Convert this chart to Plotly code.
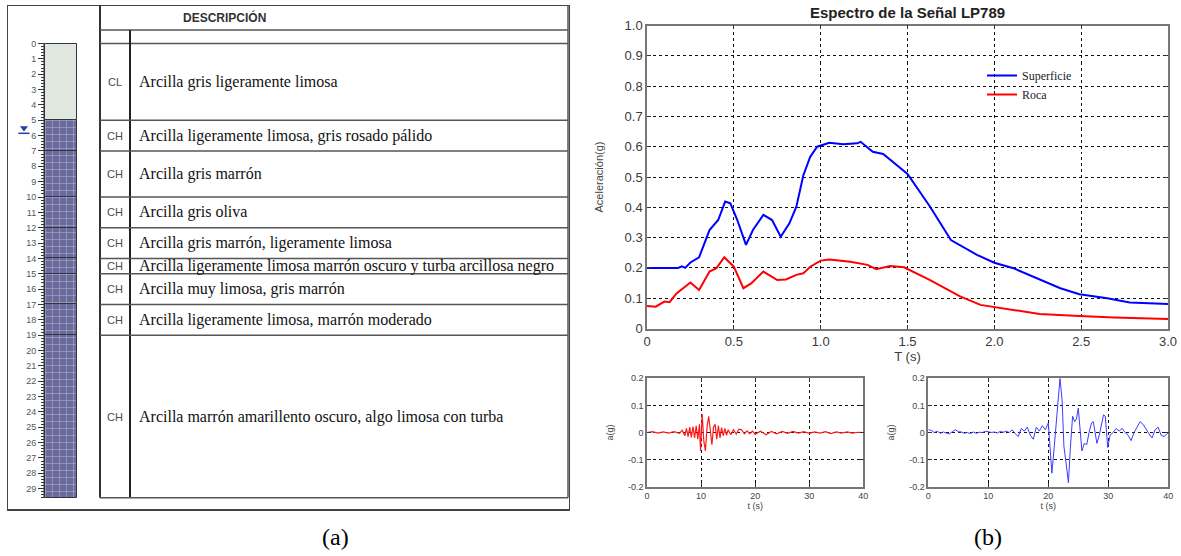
import numpy as np
import plotly.graph_objects as go

# ---------------- Data: soil profile (panel a) ----------------
layer_top = [0, 5, 7, 10, 12, 14, 15, 17, 19]
layer_bottom = [5, 7, 10, 12, 14, 15, 17, 19, 29.6]
uscs = ["CL", "CH", "CH", "CH", "CH", "CH", "CH", "CH", "CH"]
descripcion = [
    "Arcilla gris ligeramente limosa",
    "Arcilla ligeramente limosa, gris rosado pálido",
    "Arcilla gris marrón",
    "Arcilla gris oliva",
    "Arcilla gris marrón, ligeramente limosa",
    "Arcilla ligeramente limosa marrón oscuro y turba arcillosa negro",
    "Arcilla muy limosa, gris marrón",
    "Arcilla ligeramente limosa, marrón moderado",
    "Arcilla marrón amarillento oscuro, algo limosa con turba",
]
water_table_depth = 5.5
depth_ticks = list(range(0, 30))

# ---------------- Data: response spectra (panel b) ----------------
T_sup = [0, 0.1, 0.18, 0.2, 0.22, 0.25, 0.3, 0.36, 0.41, 0.45, 0.48, 0.52, 0.57,
         0.61, 0.67, 0.72, 0.77, 0.82, 0.86, 0.9, 0.94, 0.98, 1.05, 1.13, 1.21,
         1.23, 1.3, 1.36, 1.44, 1.5, 1.63, 1.75, 1.9, 2.0, 2.11, 2.24, 2.38,
         2.49, 2.65, 2.78, 3.0]
Sa_sup = [0.2, 0.2, 0.2, 0.205, 0.2, 0.218, 0.235, 0.325, 0.358, 0.419, 0.413,
          0.358, 0.276, 0.325, 0.375, 0.358, 0.303, 0.347, 0.402, 0.505, 0.567,
          0.6, 0.613, 0.608, 0.611, 0.616, 0.583, 0.576, 0.54, 0.51, 0.402,
          0.292, 0.243, 0.217, 0.199, 0.166, 0.133, 0.113, 0.0997, 0.086, 0.081]

T_roca = [0, 0.05, 0.1, 0.13, 0.17, 0.21, 0.25, 0.3, 0.36, 0.4, 0.445, 0.5,
          0.555, 0.6, 0.67, 0.75, 0.8, 0.86, 0.9, 0.94, 1.0, 1.05, 1.17, 1.27,
          1.32, 1.4, 1.48, 1.63, 1.8, 1.92, 2.05, 2.26, 2.49, 2.69, 3.0]
Sa_roca = [0.074, 0.072, 0.089, 0.087, 0.116, 0.133, 0.152, 0.127, 0.188, 0.199,
           0.235, 0.204, 0.133, 0.149, 0.188, 0.16, 0.162, 0.177, 0.182, 0.204,
           0.224, 0.228, 0.22, 0.21, 0.196, 0.206, 0.202, 0.16, 0.107, 0.078,
           0.067, 0.048, 0.041, 0.036, 0.031]

# ---------------- Data: acceleration time histories ----------------
t_roca = [0, 1, 2, 3, 4, 5, 6, 6.5, 7, 7.3, 7.6, 7.9, 8.2, 8.5, 8.8, 9.1, 9.4,
          9.7, 9.9, 10.2, 10.5, 10.8, 11.1, 11.4, 11.7, 12.0, 12.3, 12.6, 12.9,
          13.2, 13.5, 13.8, 14.1, 14.4, 14.7, 15.0, 15.5, 16, 16.5, 17, 17.5,
          18, 18.5, 19, 19.5, 20, 21, 22, 23, 24, 25, 26, 27, 28, 29, 30, 31,
          32, 33, 34, 35, 36, 37, 38, 39, 40]
a_roca = [0.0, 0.003, -0.002, 0.002, -0.002, 0.003, -0.003, 0.008, -0.012, 0.015,
          -0.015, 0.02, -0.018, 0.022, -0.02, 0.025, -0.025, 0.03, -0.068, 0.068,
          -0.03, -0.068, 0.02, 0.06, 0.01, -0.045, 0.02, 0.03, -0.025, 0.025,
          -0.02, 0.018, -0.012, 0.015, -0.01, 0.01, -0.008, 0.01, -0.006, 0.012,
          0.01, -0.005, 0.006, -0.004, 0.005, -0.006, 0.005, -0.008, 0.004,
          -0.005, 0.004, -0.003, 0.004, -0.002, 0.003, -0.003, 0.002, -0.002,
          0.003, -0.004, 0.002, -0.002, 0.002, -0.002, 0.001, 0.0]

t_sup = [0, 0.5, 1, 1.5, 2, 2.5, 3, 3.5, 4, 4.5, 5, 5.5, 6, 6.5, 7, 7.5, 8, 8.5,
         9, 9.5, 10, 10.5, 11, 11.5, 12, 12.5, 13, 13.5, 14, 14.5, 15, 15.5, 16,
         16.5, 17, 17.5, 18, 18.5, 19, 19.5, 20, 20.3, 20.6, 21.0, 21.3, 21.6,
         21.95, 22.3, 22.6, 23.0, 23.35, 23.7, 24.05, 24.4, 24.7, 25.0, 25.3,
         25.6, 26.0, 26.4, 26.8, 27.2, 27.5, 27.8, 28.1, 28.5, 28.8, 29.2, 29.5,
         29.9, 30.3, 30.8, 31.3, 31.8, 32.3, 32.8, 33.3, 33.8, 34.3, 34.8, 35.3,
         35.8, 36.3, 36.8, 37.3, 37.8, 38.3, 38.8, 39.3, 39.7, 40]
a_sup = [0.01, 0.008, 0.0, 0.005, -0.003, 0.002, -0.002, -0.005, 0.003, 0.01,
         0.003, 0.002, -0.003, 0.0, -0.004, 0.002, -0.003, 0.001, 0.0, 0.004,
         0.003, 0.0, 0.002, -0.002, 0.004, 0.001, 0.005, 0.0, 0.01, -0.005,
         -0.015, 0.015, 0.005, 0.02, -0.01, -0.025, 0.02, 0.005, 0.025, 0.01,
         0.035, -0.05, -0.15, -0.05, 0.02, 0.1, 0.2, 0.12, -0.05, -0.12, -0.185,
         -0.05, 0.06, 0.04, 0.05, 0.09, 0.02, -0.068, -0.04, -0.045, 0.0, 0.035,
         0.04, 0.0, -0.04, -0.01, 0.02, 0.065, 0.06, -0.055, -0.01, 0.0, 0.015,
         0.005, 0.015, 0.0, -0.01, -0.03, 0.0, 0.02, 0.04, 0.03, 0.01, -0.005,
         -0.02, 0.01, 0.02, -0.01, -0.015, -0.005, 0.0]

# ---------------- Layout geometry (pixels of the 1181x556 canvas) ----------------
W, H = 1181, 556
PX_PER_M = 15.35
DEPTH0_PX = 43.5


def px_to_depth(py):
    return (py - DEPTH0_PX) / PX_PER_M


def fx(px):
    return px / W


def fy(py):
    return (H - py) / H


FRAME_TOP, FRAME_BOT = 5, 510
FRAME_L, FRAME_R = 7, 570
TABLE_L, CODE_R, TABLE_R = 100, 130, 568
COL_L, COL_R = 45, 77
SANS = "Liberation Sans, Arial, sans-serif"
SERIF = "Liberation Serif, Times New Roman, serif"

fig = go.Figure()

# ---- Soil column ----
thick = [b - t for t, b in zip(layer_top, layer_bottom)]
shapes_pat = ["" if c == "CL" else "+" for c in uscs]
fill = ["#dfe7df" if c == "CL" else "#6a6a9c" for c in uscs]
fg = ["#dfe7df" if c == "CL" else "#9a9ac6" for c in uscs]
fig.add_trace(go.Bar(
    x=[(COL_L + COL_R) / 2] * len(layer_top), y=thick, base=layer_top,
    width=COL_R - COL_L, xaxis="x", yaxis="y", showlegend=False,
    marker=dict(color=fill, line=dict(color="#333344", width=1),
                pattern=dict(shape=shapes_pat, fgcolor=fg,
                             size=7, solidity=0.15, fillmode="overlay")),
    hoverinfo="skip",
))
fig.add_trace(go.Scatter(
    x=[24], y=[water_table_depth], mode="markers", xaxis="x", yaxis="y",
    marker=dict(symbol="triangle-down", size=7, color="#2a3aa8"),
    showlegend=False, hoverinfo="skip"))
fig.add_trace(go.Scatter(
    x=[24], y=[water_table_depth + 0.35], mode="markers", xaxis="x", yaxis="y",
    marker=dict(symbol="line-ew", size=8, line=dict(color="#2a3aa8", width=1.5)),
    showlegend=False, hoverinfo="skip"))

# ---- Spectra ----
fig.add_trace(go.Scatter(x=T_sup, y=Sa_sup, mode="lines", name="Superficie",
                         line=dict(color="#0000ff", width=2), xaxis="x2", yaxis="y2"))
fig.add_trace(go.Scatter(x=T_roca, y=Sa_roca, mode="lines", name="Roca",
                         line=dict(color="#ff0000", width=2), xaxis="x2", yaxis="y2"))

# ---- Time histories ----
fig.add_trace(go.Scatter(x=t_roca, y=a_roca, mode="lines", showlegend=False,
                         line=dict(color="#ff1a1a", width=1.2), xaxis="x3", yaxis="y3"))
fig.add_trace(go.Scatter(x=t_sup, y=a_sup, mode="lines", showlegend=False,
                         line=dict(color="#3c3cff", width=1), xaxis="x4", yaxis="y4"))

# ---- Table shapes ----
shapes = []
d_top = px_to_depth(FRAME_TOP)
d_frame_bot = px_to_depth(FRAME_BOT)
d_head = px_to_depth(30)
d_table_bot = layer_bottom[-1]


def ln(x0, y0, x1, y1, w=1.5, c="#555555"):
    shapes.append(dict(type="line", xref="x", yref="y", x0=x0, y0=y0, x1=x1, y1=y1,
                       line=dict(color=c, width=w)))


shapes.append(dict(type="rect", xref="x", yref="y", x0=FRAME_L, y0=d_top,
                   x1=FRAME_R, y1=d_frame_bot, line=dict(color="#444444", width=2)))
ln(TABLE_L, d_top, TABLE_L, d_table_bot, 2, "#333333")
ln(TABLE_R, d_top, TABLE_R, d_table_bot, 1.5, "#555555")
ln(TABLE_L, d_head, TABLE_R, d_head)
ln(TABLE_L, 0, TABLE_R, 0)
ln(CODE_R, d_head, CODE_R, d_table_bot, 2, "#222222")
for b in layer_bottom:
    ln(TABLE_L, b, TABLE_R, b)
# depth axis line
ln(44, 0, 44, layer_bottom[-1], 1, "#333333")

annotations = []
annotations.append(dict(text="<b>DESCRIPCIÓN</b>", xref="x", yref="y", x=224,
                        y=px_to_depth(17), showarrow=False, xanchor="center",
                        yanchor="middle",
                        font=dict(family=SANS, size=12, color="#333333")))
for t, b, c, d in zip(layer_top, layer_bottom, uscs, descripcion):
    ym = (t + b) / 2
    annotations.append(dict(text=c, xref="x", yref="y", x=115, y=ym, showarrow=False,
                            xanchor="center", yanchor="middle",
                            font=dict(family=SANS, size=11, color="#4a4a4a")))
    annotations.append(dict(text=d, xref="x", yref="y", x=137, y=ym, xanchor="left",
                            yanchor="middle", showarrow=False,
                            font=dict(family=SERIF, size=16, color="#111111")))

annotations.append(dict(text="<b>Espectro de la Señal LP789</b>", xref="paper", yref="paper",
                        x=fx(907.5), y=fy(13), showarrow=False, xanchor="center",
                        yanchor="middle",
                        font=dict(family=SANS, size=15, color="#222222")))
annotations.append(dict(text="(a)", xref="paper", yref="paper", x=fx(335), y=fy(537),
                        showarrow=False, xanchor="center", yanchor="middle",
                        font=dict(family=SERIF, size=24, color="#000000")))
annotations.append(dict(text="(b)", xref="paper", yref="paper", x=fx(988), y=fy(537),
                        showarrow=False, xanchor="center", yanchor="middle",
                        font=dict(family=SERIF, size=24, color="#000000")))

grid = dict(showgrid=True, griddash="dot", gridcolor="#111111", gridwidth=1,
            zeroline=False, showline=True, mirror="ticks", linecolor="#777777",
            linewidth=1.5, ticks="inside", ticklen=4, tickcolor="#333333",
            automargin=False)

fig.update_layout(
    width=W, height=H, autosize=False,
    margin=dict(l=0, r=0, t=0, b=0, pad=0, autoexpand=False),
    paper_bgcolor="white", plot_bgcolor="white",
    showlegend=True,
    legend=dict(x=fx(982), y=fy(61), xanchor="left", yanchor="top",
                bgcolor="rgba(0,0,0,0)", font=dict(family=SERIF, size=12, color="#222222"),
                itemwidth=30, tracegroupgap=0),
    xaxis=dict(domain=[fx(FRAME_L), fx(FRAME_R)], range=[FRAME_L, FRAME_R],
               visible=False, anchor="y", automargin=False),
    yaxis=dict(domain=[fy(FRAME_BOT + 2), fy(FRAME_TOP)],
               range=[px_to_depth(FRAME_BOT + 2), px_to_depth(FRAME_TOP)],
               anchor="free", position=fx(44), showline=False, showgrid=False,
               zeroline=False, ticks="outside", ticklen=6, tickwidth=1,
               tickcolor="#333333", tickmode="array", tickvals=depth_ticks,
               tickfont=dict(family=SANS, size=9, color="#555555"),
               automargin=False,
               minor=dict(tickmode="array",
                          tickvals=list(np.round(np.arange(0, 29.61, 0.2), 2)),
                          ticks="outside", ticklen=3, tickcolor="#333333")),
    xaxis2=dict(domain=[fx(647), fx(1168)], range=[0, 3], anchor="y2",
                tickmode="array", tickvals=[0, 0.5, 1, 1.5, 2, 2.5, 3],
                ticktext=["0", "0.5", "1.0", "1.5", "2.0", "2.5", "3.0"],
                tickfont=dict(family=SANS, size=13, color="#3a3a3a"),
                title=dict(text="T (s)", standoff=1,
                           font=dict(family=SANS, size=13, color="#3a3a3a")),
                **grid),
    yaxis2=dict(domain=[fy(328.5), fy(25.5)], range=[0, 1], anchor="x2",
                tickmode="array", tickvals=[i / 10 for i in range(11)],
                ticktext=["0"] + [f"{i / 10:.1f}" for i in range(1, 11)],
                tickfont=dict(family=SANS, size=13, color="#3a3a3a"),
                title=dict(text="Aceleración(g)", standoff=19,
                           font=dict(family=SANS, size=11, color="#444444")),
                **grid),
    xaxis3=dict(domain=[fx(647), fx(863.3)], range=[0, 40], anchor="y3",
                tickmode="array", tickvals=[0, 10, 20, 30, 40],
                tickfont=dict(family=SANS, size=9, color="#444444"),
                title=dict(text="t (s)", standoff=0,
                           font=dict(family=SANS, size=9, color="#444444")),
                **grid),
    yaxis3=dict(domain=[fy(486.7), fy(378.3)], range=[-0.2, 0.2], anchor="x3",
                tickmode="array", tickvals=[-0.2, -0.1, 0, 0.1, 0.2],
                ticktext=["-0.2", "-0.1", "0", "0.1", "0.2"],
                tickfont=dict(family=SANS, size=9, color="#444444"),
                title=dict(text="a(g)", standoff=13,
                           font=dict(family=SANS, size=9, color="#444444")),
                **grid),
    xaxis4=dict(domain=[fx(928.3), fx(1168.3)], range=[0, 40], anchor="y4",
                tickmode="array", tickvals=[0, 10, 20, 30, 40],
                tickfont=dict(family=SANS, size=9, color="#444444"),
                title=dict(text="t (s)", standoff=0,
                           font=dict(family=SANS, size=9, color="#444444")),
                **grid),
    yaxis4=dict(domain=[fy(486.7), fy(378.3)], range=[-0.2, 0.2], anchor="x4",
                tickmode="array", tickvals=[-0.2, -0.1, 0, 0.1, 0.2],
                ticktext=["-0.2", "-0.1", "0", "0.1", "0.2"],
                tickfont=dict(family=SANS, size=9, color="#444444"),
                title=dict(text="a(g)", standoff=13,
                           font=dict(family=SANS, size=9, color="#444444")),
                **grid),
    shapes=shapes,
    annotations=annotations,
    bargap=0,
)

fig.write_html("out.html")
